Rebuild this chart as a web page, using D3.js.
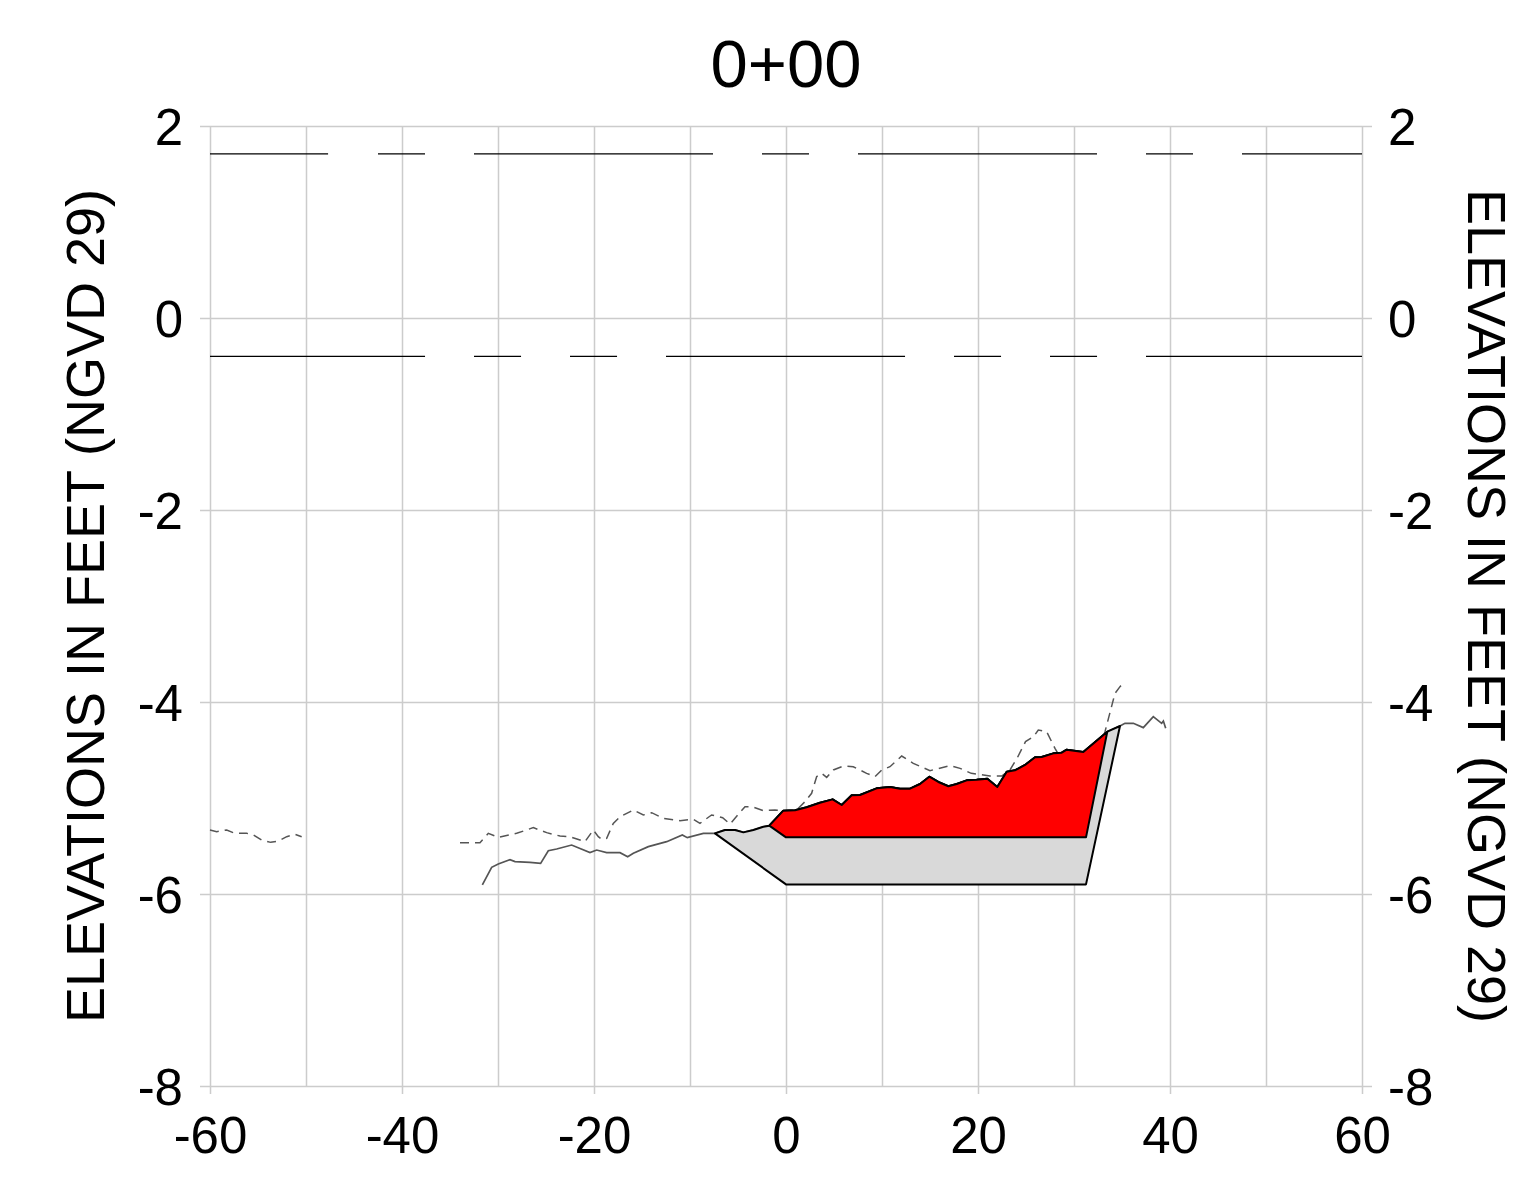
<!DOCTYPE html>
<html>
<head>
<meta charset="utf-8">
<script src="https://cdn.jsdelivr.net/npm/d3@7"></script>
<style>
  html, body { margin: 0; padding: 0; background: #fff; }
  svg { display: block; }
  text { font-family: "Liberation Sans", Arial, sans-serif; fill: #000; }
</style>
</head>
<body>
<svg id="chart" width="1536" height="1182"></svg>
<script>
// ---------------- data ----------------
const title = "0+00";
const yAxisLabel = "ELEVATIONS IN FEET (NGVD 29)";
const xLabelTicks = [-60, -40, -20, 0, 20, 40, 60];
const xMinorGrid = [-50, -30, -10, 10, 30, 50];
const yTicks = [-8, -6, -4, -2, 0, 2];

// existing ground survey (solid line)
const groundSurvey = [
  [-31.63,-5.906],[-30.66,-5.722],[-29.97,-5.688],[-28.75,-5.642],[-28.23,-5.663],
  [-26.67,-5.670],[-25.56,-5.681],[-24.76,-5.549],[-23.89,-5.531],[-22.33,-5.490],
  [-20.42,-5.569],[-19.72,-5.542],[-18.68,-5.569],[-17.29,-5.569],[-16.49,-5.611],
  [-15.90,-5.576],[-14.34,-5.507],[-12.43,-5.455],[-10.80,-5.385],[-10.28,-5.413],
  [-8.61,-5.368],[-7.40,-5.368],[-6.35,-5.333],[-5.31,-5.333],[-4.44,-5.358],
  [-3.40,-5.333],[-2.36,-5.299],[-1.74,-5.288],[-0.28,-5.132],[0.94,-5.128],
  [2.15,-5.097],[3.54,-5.049],[4.86,-5.014],[5.80,-5.073],[6.84,-4.972],
  [7.71,-4.969],[9.44,-4.899],[10.83,-4.885],[11.88,-4.903],[12.92,-4.903],
  [13.96,-4.854],[14.93,-4.778],[15.87,-4.833],[16.91,-4.878],[17.78,-4.854],
  [18.82,-4.816],[19.86,-4.809],[20.97,-4.799],[22.01,-4.885],[22.99,-4.726],
  [23.85,-4.712],[24.90,-4.656],[25.94,-4.576],[26.63,-4.573],[27.85,-4.535],
  [28.72,-4.528],[29.24,-4.497],[30.97,-4.521],[33.47,-4.309],[34.79,-4.250],
  [35.31,-4.222],[36.18,-4.222],[37.22,-4.267],[38.26,-4.153],[39.13,-4.222],
  [39.31,-4.198],[39.55,-4.274]
];

// second survey (dashed line), two pieces
const dashedSurveyLeft = [
  [-60.0,-5.333],[-59.3,-5.351],[-58.26,-5.333],[-57.40,-5.368],[-56.18,-5.368],
  [-55.49,-5.385],[-54.62,-5.438],[-53.68,-5.462],[-52.88,-5.448],[-52.01,-5.403],
  [-51.15,-5.378],[-50.45,-5.403]
];
const dashedSurveyRight = [
  [-33.96,-5.465],[-31.88,-5.465],[-31.01,-5.368],[-29.97,-5.410],[-28.06,-5.368],
  [-26.32,-5.309],[-24.93,-5.361],[-23.54,-5.396],[-22.5,-5.403],[-20.94,-5.455],
  [-20.07,-5.333],[-19.55,-5.403],[-19.20,-5.431],[-18.68,-5.42],[-17.99,-5.264],
  [-17.29,-5.195],[-15.90,-5.125],[-14.86,-5.177],[-13.99,-5.153],[-12.78,-5.212],
  [-11.04,-5.236],[-9.65,-5.222],[-8.96,-5.264],[-7.75,-5.177],[-6.6,-5.205],
  [-5.83,-5.271],[-4.27,-5.090],[-3.58,-5.090],[-2.36,-5.132],[-1.15,-5.125],
  [-0.28,-5.132],[1.11,-5.125],[1.98,-5.038],[2.67,-4.951],[3.19,-4.778],
  [3.72,-4.743],[4.24,-4.785],[4.93,-4.708],[5.97,-4.667],[7.01,-4.674],
  [8.40,-4.743],[9.27,-4.778],[9.97,-4.708],[10.83,-4.674],[12.05,-4.563],
  [13.26,-4.639],[15.0,-4.715],[17.08,-4.662],[18.13,-4.691],[19.3,-4.743],
  [20.56,-4.760],[21.25,-4.771],[22.47,-4.771],[23.33,-4.708],[24.1,-4.58],
  [24.95,-4.413],[25.8,-4.36],[26.28,-4.292],[27.15,-4.309],[28.02,-4.483],
  [28.8,-4.62],[30.5,-4.65],[32.5,-4.55],[33.23,-4.309],[34.27,-3.910],
  [34.79,-3.84],[35.31,-3.788]
];

// channel template (grey) and dredge prism (red) bottoms
const templateSection = [[-7.40,-5.368],[0,-5.9],[31.25,-5.9],[34.79,-4.25]];
const dredgeSection = [[-1.74,-5.288],[0,-5.41],[31.25,-5.41],[33.47,-4.309]];

// water level lines: elevation and drawn pieces (x extents)
const upperLevel = 1.71;
const upperPieces = [[-60,-47.7],[-42.5,-37.6],[-32.5,-7.6],[-2.5,2.4],[7.5,32.4],[37.5,42.4],[47.5,60]];
const lowerLevel = -0.40;
const lowerPieces = [[-60,-37.6],[-32.5,-27.6],[-22.5,-17.6],[-12.5,12.4],[17.5,22.4],[27.5,32.4],[37.5,60]];

// ---------------- drawing ----------------
const svg = d3.select("#chart");
const plotLeft = 210, plotRight = 1362, plotTop = 126, plotBottom = 1086;

const x = d3.scaleLinear().domain([-60, 60]).range([plotLeft, plotRight]);
const y = d3.scaleLinear().domain([-8, 2]).range([plotBottom, plotTop]);

const gridColor = "#cccccc";
const fontFam = "Liberation Sans, Arial, sans-serif";
const fmt = d => String(d);

// minor vertical grid (no labels, no outside ticks)
const gMinor = svg.append("g").attr("transform", `translate(0,${plotBottom})`)
  .call(d3.axisBottom(x).tickValues(xMinorGrid).tickSize(-(plotBottom - plotTop)).tickFormat(""));
gMinor.select(".domain").remove();
gMinor.selectAll("line").attr("stroke", gridColor).attr("stroke-width", 1.5);

// major vertical grid + bottom labels
const gx = svg.append("g").attr("transform", `translate(0,${plotBottom + 8})`)
  .call(d3.axisBottom(x).tickValues(xLabelTicks).tickSize(-(plotBottom + 8 - plotTop)).tickPadding(23).tickFormat(fmt));
gx.select(".domain").remove();
gx.selectAll("line").attr("stroke", gridColor).attr("stroke-width", 1.5);
gx.selectAll("text").attr("font-size", 51).attr("font-family", fontFam).attr("fill", "#000");

// horizontal grid + left labels
const gy = svg.append("g").attr("transform", `translate(${plotLeft - 10},0)`)
  .call(d3.axisLeft(y).tickValues(yTicks).tickSize(-(plotRight - plotLeft + 10)).tickPadding(17).tickFormat(fmt));
gy.select(".domain").remove();
gy.selectAll("line").attr("stroke", gridColor).attr("stroke-width", 1.5);
gy.selectAll("text").attr("font-size", 51).attr("dy", "0.36em").attr("font-family", fontFam).attr("fill", "#000");

// right ticks + labels
const gyr = svg.append("g").attr("transform", `translate(${plotRight + 10},0)`)
  .call(d3.axisRight(y).tickValues(yTicks).tickSize(-10).tickPadding(16).tickFormat(fmt));
gyr.select(".domain").remove();
gyr.selectAll("line").attr("stroke", gridColor).attr("stroke-width", 1.5);
gyr.selectAll("text").attr("font-size", 51).attr("dy", "0.36em").attr("font-family", fontFam).attr("fill", "#000");

// water level lines
function levelLines(pieces, level) {
  svg.append("g").selectAll("line").data(pieces).join("line")
    .attr("x1", d => x(d[0])).attr("x2", d => x(d[1]))
    .attr("y1", y(level)).attr("y2", y(level))
    .attr("stroke", "#000").attr("stroke-width", 1.2);
}
levelLines(upperPieces, upperLevel);
levelLines(lowerPieces, lowerLevel);

const line = d3.line().x(d => x(d[0])).y(d => y(d[1]));

// dashed survey
[dashedSurveyLeft, dashedSurveyRight].forEach(seg => {
  svg.append("path").datum(seg).attr("d", line)
    .attr("fill", "none").attr("stroke", "#555").attr("stroke-width", 1.5)
    .attr("stroke-dasharray", "9,6");
});

// solid ground survey
svg.append("path").datum(groundSurvey).attr("d", line)
  .attr("fill", "none").attr("stroke", "#555").attr("stroke-width", 1.7);

// polygons: section bottom + ground surface between endpoints (reversed)
function sectionPolygon(section) {
  const x0 = section[0][0], x1 = section[section.length - 1][0];
  const surface = groundSurvey.filter(d => d[0] > x0 + 1e-6 && d[0] < x1 - 1e-6).reverse();
  return section.concat(surface);
}
svg.append("path").datum(sectionPolygon(templateSection))
  .attr("d", d => line(d) + "Z")
  .attr("fill", "#d9d9d9").attr("stroke", "#000").attr("stroke-width", 2).attr("stroke-linejoin", "round");
svg.append("path").datum(sectionPolygon(dredgeSection))
  .attr("d", d => line(d) + "Z")
  .attr("fill", "#ff0000").attr("stroke", "#000").attr("stroke-width", 2).attr("stroke-linejoin", "round");

// title
svg.append("text").attr("x", x(0)).attr("y", 87).attr("text-anchor", "middle")
  .attr("font-size", 67).text(title);

// axis labels
const midY = (plotTop + plotBottom) / 2;
svg.append("text").attr("transform", `translate(104,${midY}) rotate(-90)`)
  .attr("text-anchor", "middle").attr("font-size", 54).text(yAxisLabel);
svg.append("text").attr("transform", `translate(1468,${midY}) rotate(90)`)
  .attr("text-anchor", "middle").attr("font-size", 54).text(yAxisLabel);
</script>
</body>
</html>
